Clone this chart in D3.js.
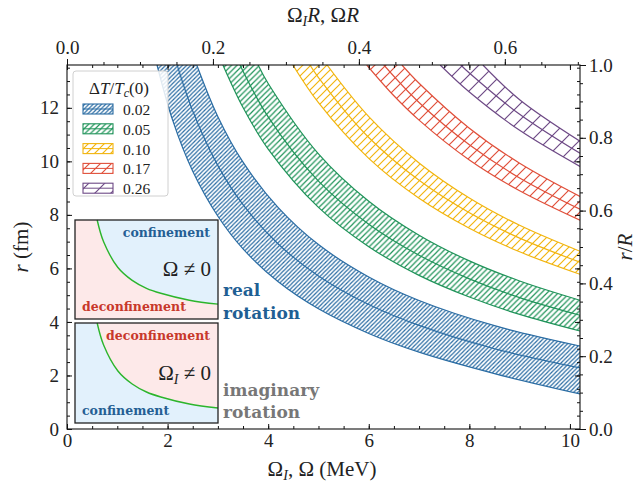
<!DOCTYPE html>
<html>
<head>
<meta charset="utf-8">
<script src="https://cdn.jsdelivr.net/npm/d3@7"></script>
<style>
  body { margin: 0; background: #fff; }
  text { font-family: "Liberation Serif", serif; fill: #222; }
  .bold { font-family: "DejaVu Serif", serif; font-weight: bold; }
</style>
</head>
<body>
<svg id="svg" width="644" height="487"></svg>
<script>
// ---- data ----
// each level has three curves [Omega (MeV), r (fm)]: lower, middle and upper edge
var levels = ["0.02", "0.05", "0.10", "0.17", "0.26"];
var colors = ["#2a6ca3", "#1f9359", "#f2b50f", "#e04f3a", "#6e4a86"];
var hatchStep = [4.2, 5.6, 8, 11, 16];

var low002 = [[1.79,13.6],[2.1,11.54],[2.5,9.63],[3,7.95],[3.5,6.73],[4.2,5.50],[5,4.49],[6,3.57],[7,2.87],[8.5,2.07],[10.2,1.31]];
var mid002 = [[2.19,13.6],[2.5,11.88],[3,9.84],[3.5,8.38],[4.2,6.91],[5,5.72],[6,4.65],[7,3.87],[8.5,3.00],[10.2,2.28]];
var high002 = [[2.58,13.6],[3,11.67],[3.5,9.97],[4.2,8.27],[5,6.89],[6,5.68],[7,4.80],[8.5,3.86],[10.2,3.10]];

var low005 = [[3.10,13.6],[3.5,12.01],[4,10.46],[5,8.28],[6,6.81],[7,5.74],[8,4.93],[9,4.28],[10.2,3.66]];
var mid005 = [[3.44,13.6],[4,11.66],[5,9.26],[6,7.65],[7,6.49],[8,5.61],[9,4.91],[10.2,4.25]];
var high005 = [[3.80,13.6],[4,12.91],[5,10.28],[6,8.51],[7,7.24],[8,6.28],[9,5.53],[10.2,4.81]];

var low010 = [[4.49,13.6],[5,12.19],[6,10.11],[7,8.62],[8,7.50],[9,6.62],[10.2,5.78]];
var mid010 = [[4.83,13.6],[5,13.13],[6,10.89],[7,9.29],[8,8.08],[9,7.13],[10.2,6.23]];
var high010 = [[5.17,13.6],[6,11.67],[7,9.94],[8,8.63],[9,7.61],[10.2,6.64]];

var low017 = [[5.96,13.6],[6.5,12.45],[7,11.54],[8,10.05],[9,8.90],[10.2,7.80]];
var mid017 = [[6.30,13.6],[7,12.20],[8,10.62],[9,9.38],[10.2,8.21]];
var high017 = [[6.66,13.6],[7,12.92],[8,11.24],[9,9.93],[10.2,8.69]];

var low026 = [[7.42,13.6],[8,12.59],[9,11.16],[10.2,9.81]];
var mid026 = [[7.83,13.6],[8,13.30],[9,11.76],[10.2,10.30]];
var high026 = [[8.27,13.6],[9,12.3],[10.2,10.75]];

var bands = [[low002, mid002, high002], [low005, mid005, high005], [low010, mid010, high010],
             [low017, mid017, high017], [low026, mid026, high026]];

// sketch curve of the two insets (unit box)
var insetX = [0.155, 0.2, 0.3, 0.4, 0.5, 0.6, 0.8, 1.0];
var insetY = [1.0, 0.78, 0.52, 0.39, 0.31, 0.26, 0.19, 0.15];

var R_FM = 13.6;      // r/R = 1 at the top of the axis
var HBARC = 197.327;  // MeV fm

// ---- layout ----
var svg = d3.select("svg");
var pLeft = 67, pRight = 580, pTop = 65, pBottom = 429;

var x = d3.scaleLinear().domain([0, 10.2]).range([pLeft, pRight]);
var y = d3.scaleLinear().domain([0, R_FM]).range([pBottom, pTop]);
var xTop = d3.scaleLinear().domain([0, 10.2 * R_FM / HBARC]).range([pLeft, pRight]);
var yRight = d3.scaleLinear().domain([0, 1]).range([pBottom, pTop]);

var defs = svg.append("defs");
defs.append("clipPath").attr("id", "plotClip")
  .append("rect").attr("x", pLeft).attr("y", pTop).attr("width", pRight - pLeft).attr("height", pBottom - pTop);

// hatch patterns
colors.forEach(function (c, i) {
  var s = hatchStep[i];
  defs.append("pattern")
    .attr("id", "hatch" + i)
    .attr("patternUnits", "userSpaceOnUse")
    .attr("width", s).attr("height", s)
    .append("path")
    .attr("d", "M0," + s + "L" + s + ",0M-1,1L1,-1M" + (s - 1) + "," + (s + 1) + "L" + (s + 1) + "," + (s - 1))
    .attr("stroke", c).attr("stroke-width", 1.2).attr("fill", "none");
});

// ---- bands ----
var line = d3.line().x(function (d) { return x(d[0]); }).y(function (d) { return y(d[1]); })
  .curve(d3.curveCatmullRom);

var plot = svg.append("g").attr("clip-path", "url(#plotClip)");

function bandPath(a, b) {
  var p1 = line(a);
  var p2 = line(b.slice().reverse());
  return p1 + "L" + p2.slice(1) + "Z";
}

bands.forEach(function (b, i) {
  plot.append("path").attr("d", bandPath(b[0], b[1])).attr("fill", "url(#hatch" + i + ")");
  plot.append("path").attr("d", bandPath(b[1], b[2])).attr("fill", "url(#hatch" + i + ")");
  b.forEach(function (curve) {
    plot.append("path").attr("d", line(curve))
      .attr("fill", "none").attr("stroke", colors[i]).attr("stroke-width", 1.2);
  });
});

// ---- axes ----
function ticks(axisGen, g) {
  g.call(axisGen);
  g.select(".domain").remove();
  return g;
}
function at(tx, ty) {
  return svg.append("g").attr("transform", "translate(" + tx + "," + ty + ")");
}
var fs = 19;

// bottom
ticks(d3.axisBottom(x).tickValues(d3.range(0, 10.01, 0.5)).tickSize(-3).tickFormat(""), at(0, pBottom));
var gb2 = ticks(d3.axisBottom(x).tickValues([0, 2, 4, 6, 8, 10]).tickSize(-5).tickPadding(5).tickFormat(d3.format("d")), at(0, pBottom));
gb2.selectAll("text").attr("font-size", fs);

// mirrored bottom ticks at the top, pointing in
ticks(d3.axisTop(x).tickValues(d3.range(0, 10.01, 0.5)).tickSize(-3).tickFormat(""), at(0, pTop));
ticks(d3.axisTop(x).tickValues([0, 2, 4, 6, 8, 10]).tickSize(-5).tickFormat(""), at(0, pTop));

// left
ticks(d3.axisLeft(y).tickValues(d3.range(0, 13.51, 0.5)).tickSize(-3).tickFormat(""), at(pLeft, 0));
var gl2 = ticks(d3.axisLeft(y).tickValues([0, 2, 4, 6, 8, 10, 12]).tickSize(-5).tickPadding(8).tickFormat(d3.format("d")), at(pLeft, 0));
gl2.selectAll("text").attr("font-size", fs);

// mirrored left ticks at the right, pointing in
ticks(d3.axisRight(y).tickValues(d3.range(0, 13.51, 0.5)).tickSize(-3).tickFormat(""), at(pRight, 0));
ticks(d3.axisRight(y).tickValues([0, 2, 4, 6, 8, 10, 12]).tickSize(-5).tickFormat(""), at(pRight, 0));

// top secondary axis (Omega R)
ticks(d3.axisTop(xTop).tickValues(d3.range(0, 0.701, 0.05)).tickSize(3).tickFormat(""), at(0, pTop));
var gt = ticks(d3.axisTop(xTop).tickValues([0, 0.2, 0.4, 0.6]).tickSize(6).tickPadding(5).tickFormat(d3.format(".1f")), at(0, pTop));
gt.selectAll("text").attr("font-size", fs);

// right secondary axis (r/R)
ticks(d3.axisRight(yRight).tickValues(d3.range(0, 1.001, 0.05)).tickSize(3).tickFormat(""), at(pRight, 0));
var gr = ticks(d3.axisRight(yRight).tickValues([0, 0.2, 0.4, 0.6, 0.8, 1.0]).tickSize(6).tickPadding(3).tickFormat(d3.format(".1f")), at(pRight, 0));
gr.selectAll("text").attr("font-size", fs);

svg.selectAll(".tick line").attr("stroke", "#111");
svg.selectAll(".tick text").attr("fill", "#222");

// frame
svg.append("rect").attr("x", pLeft).attr("y", pTop).attr("width", pRight - pLeft).attr("height", pBottom - pTop)
  .attr("fill", "none").attr("stroke", "#111").attr("stroke-width", 1.1);

// axis titles
var bt = svg.append("text").attr("x", 322).attr("y", 476).attr("text-anchor", "middle").attr("font-size", 21);
bt.append("tspan").text("Ω");
bt.append("tspan").attr("font-style", "italic").attr("font-size", 14).attr("dy", 4).text("I");
bt.append("tspan").attr("dy", -4).text(", Ω (MeV)");

var tt = svg.append("text").attr("x", 323).attr("y", 22).attr("text-anchor", "middle").attr("font-size", 21);
tt.append("tspan").text("Ω");
tt.append("tspan").attr("font-style", "italic").attr("font-size", 14).attr("dy", 4).text("I");
tt.append("tspan").attr("dy", -4).attr("font-style", "italic").text("R");
tt.append("tspan").text(", Ω");
tt.append("tspan").attr("font-style", "italic").text("R");

var lt = svg.append("text").attr("transform", "translate(28,247) rotate(-90)").attr("text-anchor", "middle").attr("font-size", 21);
lt.append("tspan").attr("font-style", "italic").text("r");
lt.append("tspan").text(" (fm)");

var rt = svg.append("text").attr("transform", "translate(632,247) rotate(-90)").attr("text-anchor", "middle").attr("font-size", 21);
rt.append("tspan").attr("font-style", "italic").text("r");
rt.append("tspan").text("/");
rt.append("tspan").attr("font-style", "italic").text("R");

// ---- legend ----
var lg = svg.append("g");
lg.append("rect").attr("x", 73).attr("y", 71).attr("width", 95).attr("height", 125).attr("rx", 3)
  .attr("fill", "#fff").attr("fill-opacity", 0.85).attr("stroke", "#d0d0d0");
var ltitle = lg.append("text").attr("x", 119).attr("y", 94).attr("text-anchor", "middle").attr("font-size", 17);
ltitle.append("tspan").text("Δ");
ltitle.append("tspan").attr("font-style", "italic").text("T");
ltitle.append("tspan").text("/");
ltitle.append("tspan").attr("font-style", "italic").text("T");
ltitle.append("tspan").attr("font-style", "italic").attr("font-size", 12).attr("dy", 3).text("c");
ltitle.append("tspan").attr("dy", -3).text("(0)");

levels.forEach(function (lab, i) {
  var yy = 104 + i * 19.8;
  lg.append("rect").attr("x", 83).attr("y", yy).attr("width", 30).attr("height", 10)
    .attr("fill", "url(#hatch" + i + ")").attr("stroke", colors[i]).attr("stroke-width", 1.1);
  lg.append("line").attr("x1", 83).attr("x2", 113).attr("y1", yy + 5).attr("y2", yy + 5)
    .attr("stroke", colors[i]).attr("stroke-width", 1);
  lg.append("text").attr("x", 123).attr("y", yy + 11).attr("font-size", 15.5).text(lab);
});

// ---- insets ----
function inset(y0, y1, bg, fg, upper, lower, sub) {
  var ix = d3.scaleLinear().domain([0, 1]).range([75, 218]);
  var iy = d3.scaleLinear().domain([0, 1]).range([y1, y0]);
  var g = svg.append("g");
  g.append("rect").attr("x", 75).attr("y", y0).attr("width", 143).attr("height", y1 - y0).attr("fill", bg);
  var pts = insetX.map(function (v, k) { return [ix(v), iy(insetY[k])]; });
  var cl = d3.line().curve(d3.curveCatmullRom);
  g.append("path")
    .attr("d", "M" + ix(0) + "," + iy(1) + "L" + cl(pts).slice(1) + "L" + ix(1) + "," + iy(0) + "L" + ix(0) + "," + iy(0) + "Z")
    .attr("fill", fg);
  g.append("path").attr("d", cl(pts)).attr("fill", "none").attr("stroke", "#2cb52c").attr("stroke-width", 1.4);
  g.append("rect").attr("x", 75).attr("y", y0).attr("width", 143).attr("height", y1 - y0)
    .attr("fill", "none").attr("stroke", "#222").attr("stroke-width", 1.3);
  g.append("text").attr("class", "bold").attr("x", 210).attr("y", y0 + 17).attr("text-anchor", "end").attr("font-size", 12.5)
    .style("fill", upper[1]).text(upper[0]);
  g.append("text").attr("class", "bold").attr("x", 82).attr("y", y1 - 8).attr("font-size", 12.5)
    .style("fill", lower[1]).text(lower[0]);
  var st = g.append("text").attr("x", 211).attr("y", y0 + (sub ? 57 : 56)).attr("text-anchor", "end").attr("font-size", 21);
  st.append("tspan").text("Ω");
  if (sub) st.append("tspan").attr("font-style", "italic").attr("font-size", 14).attr("dy", 4).text(sub);
  st.append("tspan").attr("dy", sub ? -4 : 0).text(" ≠ 0");
}
var blueTxt = "#255f94", redTxt = "#c8382b";
inset(220, 319, "#e2f1fc", "#fde9e9", ["confinement", blueTxt], ["deconfinement", redTxt], "");
inset(323, 423, "#fde9e9", "#e2f1fc", ["deconfinement", redTxt], ["confinement", blueTxt], "I");

// ---- annotations ----
svg.append("text").attr("class", "bold").attr("x", 223).attr("y", 296).attr("font-size", 17)
  .style("fill", "#1f5f94").text("real");
svg.append("text").attr("class", "bold").attr("x", 223).attr("y", 319).attr("font-size", 17)
  .style("fill", "#1f5f94").text("rotation");
svg.append("text").attr("class", "bold").attr("x", 223).attr("y", 396).attr("font-size", 17)
  .style("fill", "#777").text("imaginary");
svg.append("text").attr("class", "bold").attr("x", 223).attr("y", 418).attr("font-size", 17)
  .style("fill", "#777").text("rotation");
</script>
</body>
</html>
